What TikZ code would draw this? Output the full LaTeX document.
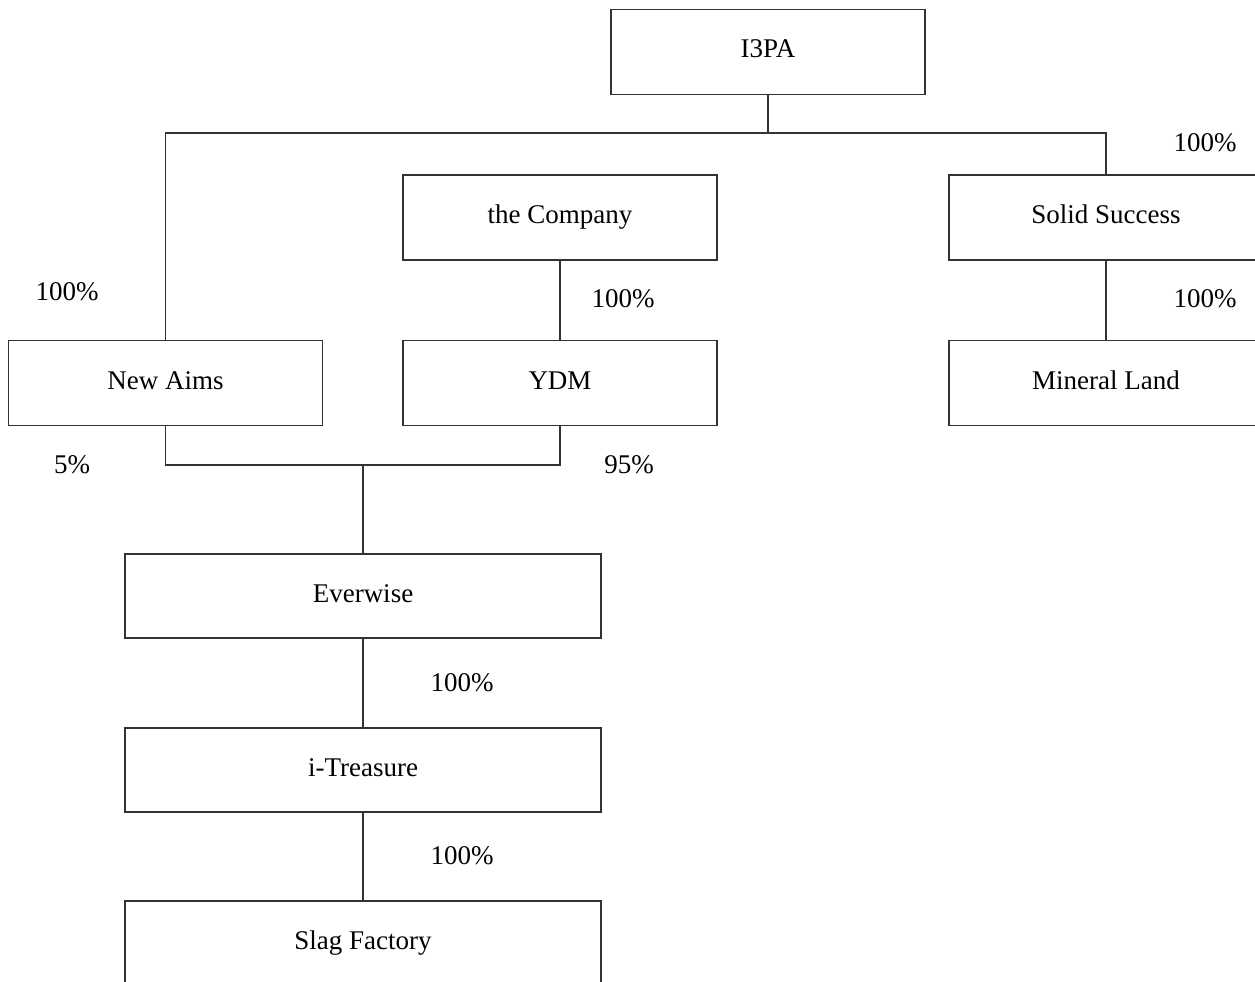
\documentclass[tikz,border=0pt]{standalone}
\usepackage{fontspec}
\setmainfont{Liberation Serif}
\begin{document}
\begin{tikzpicture}[x=1pt,y=-1pt,
  line/.style={draw=black!80, line width=1.4pt},
  box/.style={line, rectangle, minimum width=314pt, minimum height=85pt, inner sep=0pt, text height=18pt, text depth=6pt, font=\fontsize{27}{30}\selectfont},
  wbox/.style={box, minimum width=476pt, minimum height=84pt},
  pct/.style={font=\fontsize{27}{30}\selectfont, inner sep=0pt}]
\useasboundingbox (0,0) rectangle (1255,982);
\clip (0,0) rectangle (1255,982);
\node[box] (i3pa) at (768,52) {I3PA};
\node[box] (comp) at (560,217.5) {the Company};
\node[box] (solid) at (1106,217.5) {Solid Success};
\node[box] (newaims) at (165.5,383) {New Aims};
\node[box] (ydm) at (560,383) {YDM};
\node[box] (mineral) at (1106,383) {Mineral Land};
\node[wbox] (ever) at (363,596) {Everwise};
\node[wbox] (itreas) at (363,770) {i-Treasure};
\node[wbox] (slag) at (363,943) {Slag Factory};
\coordinate (top) at (768,133);
\coordinate (mid) at (363,465);
\draw[line] (i3pa.south) -- (top);
\draw[line] (top) -| (newaims.north);
\draw[line] (top) -| (solid.north);
\draw[line] (comp.south) -- (ydm.north);
\draw[line] (solid.south) -- (mineral.north);
\draw[line] (newaims.south) |- (mid);
\draw[line] (ydm.south) |- (mid);
\draw[line] (mid) -- (ever.north);
\draw[line] (ever.south) -- (itreas.north);
\draw[line] (itreas.south) -- (slag.north);
\node[pct] (p1) at (1205,143) {100\%};
\node[pct] (p2) at (67,292) {100\%};
\node[pct] (p3) at (623,299) {100\%};
\node[pct] (p4) at (1205,299) {100\%};
\node[pct] (p5) at (72,465) {5\%};
\node[pct] (p6) at (629,465) {95\%};
\node[pct] (p7) at (462,683) {100\%};
\node[pct] (p8) at (462,856) {100\%};
\end{tikzpicture}
\end{document}
